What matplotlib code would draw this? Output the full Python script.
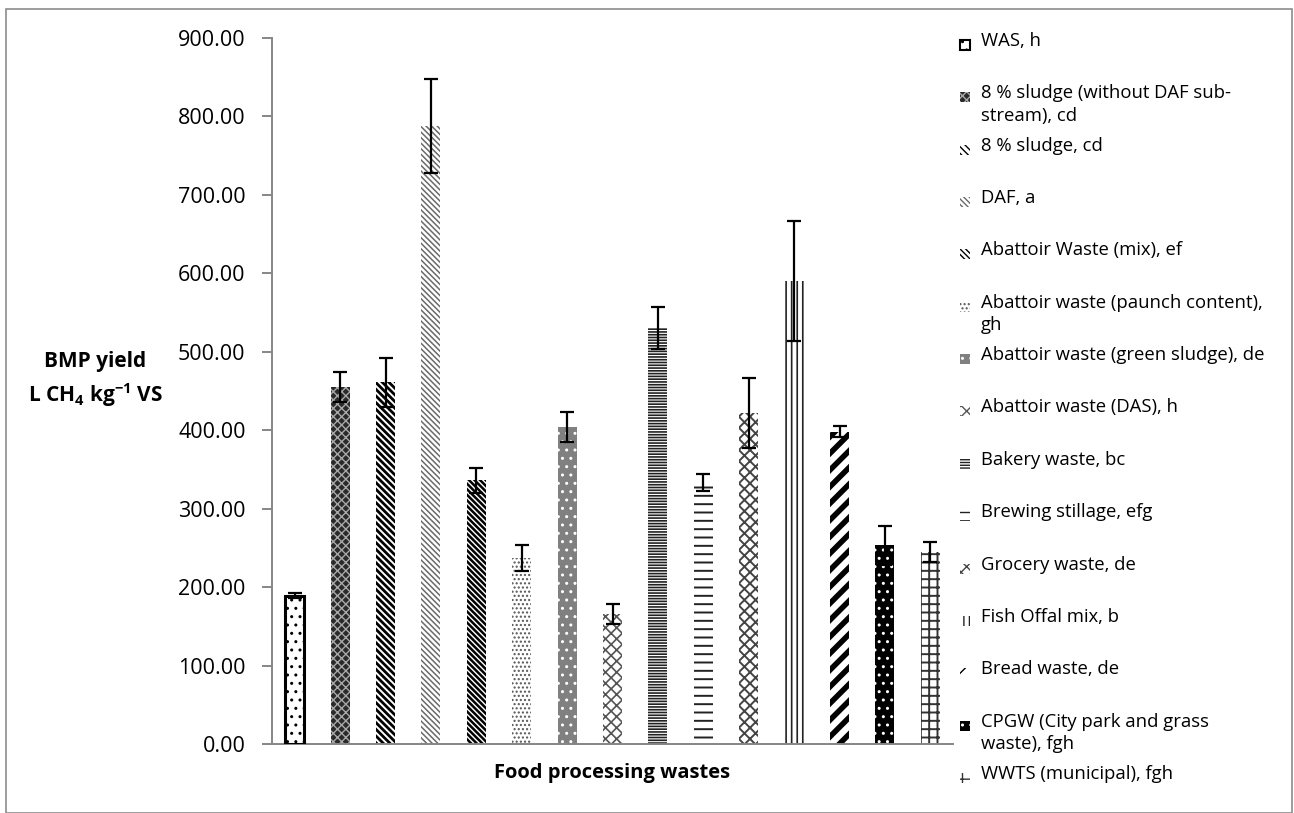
import matplotlib

matplotlib.use("Agg")

import matplotlib.pyplot as plt
from matplotlib.patches import Rectangle
from matplotlib.ticker import FuncFormatter

plt.rcParams["font.family"] = ["Open Sans", "DejaVu Sans"]
plt.rcParams["mathtext.fontset"] = "custom"
plt.rcParams["mathtext.rm"] = "Open Sans:bold"
plt.rcParams["mathtext.bf"] = "Open Sans:bold"
plt.rcParams["mathtext.default"] = "bf"

labels = [
    "WAS, h",
    "8 % sludge (without DAF sub-\nstream), cd",
    "8 % sludge, cd",
    "DAF, a",
    "Abattoir Waste (mix), ef",
    "Abattoir waste (paunch content),\ngh",
    "Abattoir waste (green sludge), de",
    "Abattoir waste (DAS), h",
    "Bakery waste, bc",
    "Brewing stillage, efg",
    "Grocery waste, de",
    "Fish Offal mix, b",
    "Bread waste, de",
    "CPGW (City park and grass\nwaste), fgh",
    "WWTS (municipal), fgh",
]
bmp = [189, 455, 461, 788, 336, 237, 404, 166, 530, 333, 422, 590, 398, 253, 245]
err = [3, 19, 31, 60, 16, 17, 19, 13, 27, 11, 45, 77, 7, 25, 13]

# (face, hatch, hatch colour, hatch width)
styles = [
    ("white", "..", "black", 1.0),
    ("#2a2a2a", "xxxx", "#a8a8a8", 1.0),
    ("white", "\\" * 5, "black", 2.0),
    ("white", "\\" * 6, "#6a6a6a", 1.1),
    ("white", "\\" * 6, "black", 1.8),
    ("white", "....", "#555555", 1.0),
    ("#808080", "..", "white", 1.0),
    ("white", "xxx", "#555555", 1.2),
    ("white", "-" * 6, "#222222", 1.2),
    ("white", "--", "#222222", 1.4),
    ("white", "xxx", "#444444", 1.4),
    ("white", "|||", "#222222", 1.2),
    ("white", "//", "black", 4.0),
    ("black", "..", "white", 1.0),
    ("white", "++", "#333333", 1.4),
]

W, H = 1294, 813
fig = plt.figure(figsize=(W / 100, H / 100), dpi=100)
ax = fig.add_axes([272 / W, 1 - 744 / H, (953 - 272) / W, (744 - 37.7) / H])

x = list(range(len(bmp)))
for i in x:
    face, hatch, hc, hlw = styles[i]
    with plt.rc_context({"hatch.linewidth": hlw}):
        bar = ax.bar(i, bmp[i], width=0.42, color=face, edgecolor=hc,
                     linewidth=0, hatch=hatch, zorder=2)[0]
    if hasattr(bar, "set_hatch_linewidth"):
        bar.set_hatch_linewidth(hlw)
    if i == 0:
        ax.bar(i, bmp[i], width=0.42, fill=False, edgecolor="black",
               linewidth=2.2, zorder=3)

ax.errorbar(x, bmp, yerr=err, fmt="none", ecolor="black", elinewidth=1.6,
            capsize=5, capthick=1.6, zorder=4)

ax.set_xlim(-0.5, len(bmp) - 0.5)
ax.set_ylim(0, 900)
ax.set_yticks(range(0, 901, 100))
ax.yaxis.set_major_formatter(FuncFormatter(lambda v, p: f"{v:.2f}"))
ax.set_xticks([])
for s in ("top", "right"):
    ax.spines[s].set_visible(False)
for s in ("left", "bottom"):
    ax.spines[s].set_color("#868686")
    ax.spines[s].set_linewidth(1.4)
ax.tick_params(axis="y", direction="out", length=7, width=1.4,
               color="#868686", labelsize=15.5, pad=12)

fig.text(95 / W, 1 - 380 / H, "BMP yield\nL CH$_4$ kg$^{-1}$ VS",
         ha="center", va="center", fontsize=15, fontweight="bold",
         linespacing=1.45)
fig.text(612 / W, 1 - 773 / H, "Food processing wastes", ha="center",
         va="center", fontsize=14.5, fontweight="bold")

# legend, one slot per series
for i, lab in enumerate(labels):
    yc = 45 + 52.35 * i
    face, hatch, hc, hlw = styles[i]
    with plt.rc_context({"hatch.linewidth": min(hlw, 1.0)}):
        h = Rectangle((960 / W, 1 - (yc + 5) / H), 10 / W, 10 / H,
                      transform=fig.transFigure, facecolor=face,
                      edgecolor="black" if i == 0 else hc,
                      linewidth=1.5 if i == 0 else 0, hatch=hatch)
    fig.add_artist(h)
    fig.text(981 / W, 1 - (yc - 13) / H, lab, ha="left", va="top",
             fontsize=13.3, linespacing=1.33)

fig.add_artist(Rectangle((6 / W, 0), (1292 - 6) / W, 1 - 9 / H,
                         transform=fig.transFigure, fill=False,
                         edgecolor="#8c8c8c", linewidth=1.2))

fig.savefig("out.png", dpi=100)
